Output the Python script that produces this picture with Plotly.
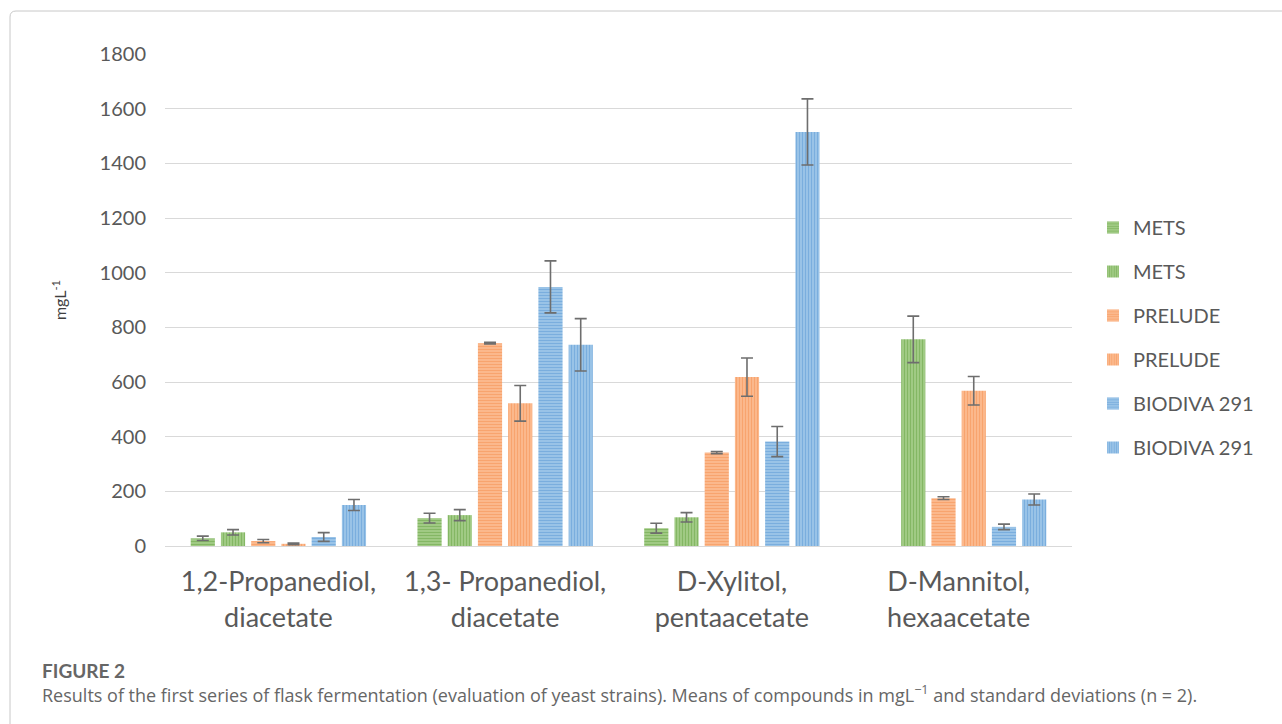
import plotly.graph_objects as go

# Compounds measured (x-axis categories)
categories = [
    "1,2-Propanediol,<br>diacetate",
    "1,3- Propanediol,<br>diacetate",
    "D-Xylitol,<br>pentaacetate",
    "D-Mannitol,<br>hexaacetate",
]

# Mean concentrations (mg/L) per strain/series and their standard deviations
mets_h = [28, 102, 65, None]
mets_h_sd = [8, 18, 18, None]
mets_v = [50, 113, 105, 756]
mets_v_sd = [10, 20, 17, 85]
prelude_h = [18, 742, 342, 175]
prelude_h_sd = [6, 3, 4, 5]
prelude_v = [8, 522, 618, 568]
prelude_v_sd = [3, 65, 70, 52]
biodiva_h = [33, 948, 382, 70]
biodiva_h_sd = [16, 95, 55, 10]
biodiva_v = [150, 736, 1515, 170]
biodiva_v_sd = [20, 96, 121, 20]

series_names = ["METS", "METS", "PRELUDE", "PRELUDE", "BIODIVA 291", "BIODIVA 291"]
y_ticks = [0, 200, 400, 600, 800, 1000, 1200, 1400, 1600, 1800]

caption_title = "FIGURE 2"
caption_text = ("Results of the first series of flask fermentation (evaluation of yeast strains). "
                "Means of compounds in mgL<sup>−1</sup> and standard deviations (n = 2).")

# Styling
W, H = 1282, 724
ML, MR, MT, MB = 165, 210, 54, 178
PW, PH = W - ML - MR, H - MT - MB

GREEN, GREEN_BG = "#5f9e3a", "#a9d08e"
ORANGE, ORANGE_BG = "#f58a45", "#fbbf96"
BLUE, BLUE_BG = "#4f93d2", "#a4c9ea"
TEXT = "#595959"
FONT = "Lato"

series = [
    (mets_h, mets_h_sd, GREEN, GREEN_BG, "-"),
    (mets_v, mets_v_sd, GREEN, GREEN_BG, "|"),
    (prelude_h, prelude_h_sd, ORANGE, ORANGE_BG, "-"),
    (prelude_v, prelude_v_sd, ORANGE, ORANGE_BG, "|"),
    (biodiva_h, biodiva_h_sd, BLUE, BLUE_BG, "-"),
    (biodiva_v, biodiva_v_sd, BLUE, BLUE_BG, "|"),
]

fig = go.Figure()
for i, (vals, sds, fg, bg, shape) in enumerate(series):
    fig.add_trace(go.Bar(
        x=categories,
        y=vals,
        name=series_names[i],
        legendgroup=f"g{i}",
        marker=dict(
            color=fg,
            line=dict(width=0),
            pattern=dict(shape=shape, fgcolor=fg, bgcolor=bg, size=3, solidity=0.5),
        ),
        error_y=dict(type="data", array=sds, visible=True,
                     color="#6e6e6e", thickness=1.6, width=6),
    ))

def px_x(p):
    return (p - ML) / PW

def px_y(p):
    return (H - MB - p) / PH

fig.update_layout(
    width=W, height=H,
    margin=dict(l=ML, r=MR, t=MT, b=MB),
    paper_bgcolor="white",
    plot_bgcolor="white",
    barmode="group",
    bargap=0.2,
    bargroupgap=0.2,
    font=dict(family=FONT, color=TEXT),
    showlegend=True,
    legend=dict(
        x=px_x(1093), y=px_y(208), xanchor="left", yanchor="top",
        font=dict(size=20, color=TEXT, family=FONT),
        tracegroupgap=15,
        itemwidth=30,
        bgcolor="rgba(0,0,0,0)",
    ),
    xaxis=dict(
        tickfont=dict(size=27, color=TEXT, family=FONT),
        showgrid=False,
        showline=True, linecolor="#d9d9d9", linewidth=1,
        ticks="", ticklabelstandoff=12,
    ),
    yaxis=dict(
        range=[0, 1800],
        tickvals=y_ticks,
        tickfont=dict(size=20, color=TEXT, family=FONT),
        showgrid=True, gridcolor="#d9d9d9", gridwidth=1,
        zeroline=True, zerolinecolor="#d9d9d9", zerolinewidth=1,
        showline=False, ticks="", ticklabelstandoff=18,
        title=dict(text="mgL<sup>-1</sup>", font=dict(size=16, color="#404040", family=FONT),
                   standoff=28),
    ),
)

# Figure frame (top and left edges visible)
fig.add_shape(type="path", xref="paper", yref="paper",
              path=(f"M {px_x(1290)},{px_y(11)} L {px_x(16)},{px_y(11)} "
                    f"Q {px_x(10)},{px_y(11)} {px_x(10)},{px_y(17)} L {px_x(10)},{px_y(740)}"),
              line=dict(color="#c8c8c8", width=1), layer="below")

# Caption
fig.add_annotation(x=px_x(40), y=px_y(670), xref="paper", yref="paper",
                   text=f"<b>{caption_title}</b>", showarrow=False,
                   xanchor="left", yanchor="middle",
                   font=dict(size=19, color="#666666", family="Lato"))
fig.add_annotation(x=px_x(40), y=px_y(694), xref="paper", yref="paper",
                   text=caption_text, showarrow=False,
                   xanchor="left", yanchor="middle",
                   font=dict(size=18, color="#666666", family="Open Sans"))

fig.write_html("out.html")
